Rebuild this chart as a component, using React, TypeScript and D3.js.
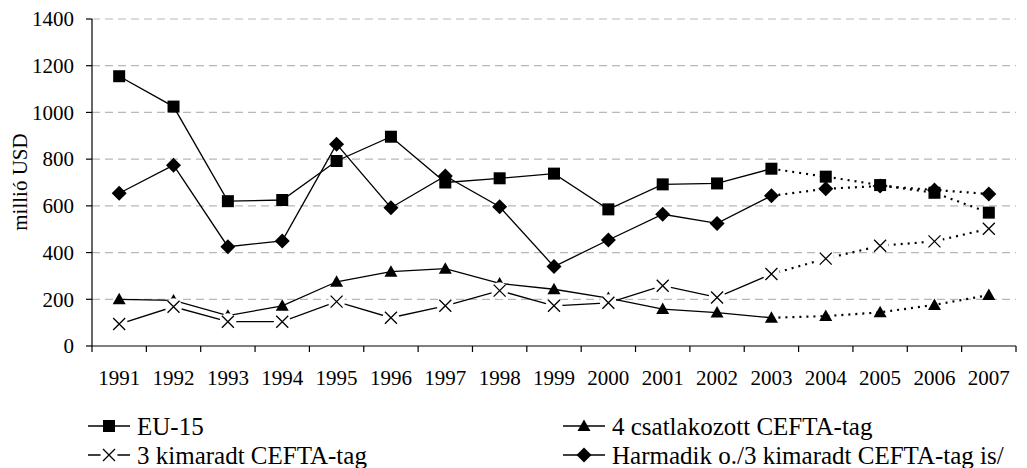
import React, { useRef, useEffect } from 'react'
import * as d3 from 'd3'

// years on the x axis
const years = ['1991', '1992', '1993', '1994', '1995', '1996', '1997', '1998', '1999',
  '2000', '2001', '2002', '2003', '2004', '2005', '2006', '2007']

// millió USD
const eu15 = [1155, 1025, 620, 625, 792, 896, 700, 718, 738, 585, 692, 696, 759, 725, 689, 656, 571]
const csatlakozott = [200, 195, 130, 172, 275, 318, 331, 268, 243, 205, 158, 143, 121, 128, 144, 176, 218]
const kimaradt = [94, 168, 104, 104, 190, 121, 172, 237, 172, 185, 258, 208, 308, 374, 429, 448, 502]
const harmadik = [654, 774, 425, 450, 864, 592, 728, 596, 340, 454, 564, 525, 643, 673, 685, 668, 651]

const yTicks = [0, 200, 400, 600, 800, 1000, 1200, 1400]
const lastSolid = '2003' // dotted after this year

const seriesNames = ['EU-15', '4 csatlakozott CEFTA-tag', '3 kimaradt CEFTA-tag', 'Harmadik o./3 kimaradt CEFTA-tag is/']
const seriesValues = [eu15, csatlakozott, kimaradt, harmadik]
const seriesMarkers = ['square', 'triangle', 'cross', 'diamond']

const FONT = '"Liberation Serif", "Times New Roman", serif'

function drawMarker(g: any, type: string, x: number, y: number) {
  if (type === 'square') {
    g.append('rect').attr('x', x - 6).attr('y', y - 6).attr('width', 12).attr('height', 12).attr('fill', '#000')
  } else if (type === 'triangle') {
    g.append('path').attr('d', `M${x},${y - 6.5}L${x + 6.5},${y + 5}L${x - 6.5},${y + 5}Z`).attr('fill', '#000')
  } else if (type === 'diamond') {
    g.append('path').attr('d', `M${x},${y - 7.5}L${x + 7.5},${y}L${x},${y + 7.5}L${x - 7.5},${y}Z`).attr('fill', '#000')
  } else {
    // white patch first, the line stops short of the cross
    g.append('circle').attr('cx', x).attr('cy', y).attr('r', 8.5).attr('fill', '#fff')
    g.append('path').attr('d', `M${x - 6},${y - 6}L${x + 6},${y + 6}M${x - 6},${y + 6}L${x + 6},${y - 6}`)
      .attr('stroke', '#000').attr('stroke-width', 1.3).attr('fill', 'none')
  }
}

export default function App() {
  const svgRef = useRef<SVGSVGElement>(null)

  useEffect(() => {
    const w = 1027
    const h = 468
    const svg = d3.select(svgRef.current)
    svg.selectAll('*').remove()
    svg.attr('width', w).attr('height', h).style('background', '#fff')

    const left = 92
    const right = 1016
    const top = 19
    const bottom = 346

    const xScale = d3.scaleBand().domain(years).range([left, right])
    const yScale = d3.scaleLinear().domain([0, 1400]).range([bottom, top])
    const cx = (yr: string) => (xScale(yr) as number) + xScale.bandwidth() / 2

    // grid
    svg.append('g')
      .selectAll('line')
      .data(yTicks.filter(t => t > 0))
      .join('line')
      .attr('x1', left).attr('x2', right)
      .attr('y1', d => yScale(d)).attr('y2', d => yScale(d))
      .attr('stroke', '#b8b8b8').attr('stroke-width', 1.2)
      .attr('stroke-dasharray', '8,5')

    // y axis
    svg.append('line').attr('x1', left).attr('x2', left).attr('y1', top).attr('y2', bottom)
      .attr('stroke', '#000').attr('stroke-width', 1.2)
    svg.append('g').selectAll('line').data(yTicks).join('line')
      .attr('x1', left - 6).attr('x2', left).attr('y1', d => yScale(d)).attr('y2', d => yScale(d))
      .attr('stroke', '#000').attr('stroke-width', 1.2)
    svg.append('g').selectAll('text').data(yTicks).join('text')
      .attr('x', left - 18).attr('y', d => yScale(d)).attr('dy', '0.35em')
      .attr('text-anchor', 'end')
      .attr('font-family', FONT).attr('font-size', 21)
      .text(d => d3.format('d')(d))

    // x axis, ticks between the years
    svg.append('line').attr('x1', left).attr('x2', right).attr('y1', bottom).attr('y2', bottom)
      .attr('stroke', '#000').attr('stroke-width', 1.2)
    const edges = years.map(y => xScale(y) as number).concat([right])
    svg.append('g').selectAll('line').data(edges).join('line')
      .attr('x1', d => d).attr('x2', d => d).attr('y1', bottom).attr('y2', bottom + 6)
      .attr('stroke', '#000').attr('stroke-width', 1.2)
    svg.append('g').selectAll('text').data(years).join('text')
      .attr('x', d => cx(d)).attr('y', 385)
      .attr('text-anchor', 'middle')
      .attr('font-family', FONT).attr('font-size', 21)
      .text(d => d)

    // y title
    svg.append('text')
      .attr('transform', `translate(27,182) rotate(-90)`)
      .attr('text-anchor', 'middle')
      .attr('font-family', FONT).attr('font-size', 21)
      .text('millió USD')

    const line = d3.line<[string, number]>().x(d => cx(d[0])).y(d => yScale(d[1]))
    const cut = years.indexOf(lastSolid)

    seriesValues.forEach((vals, si) => {
      const g = svg.append('g')
      const pts: [string, number][] = years.map((y, i) => [y, vals[i]])
      g.append('path').attr('d', line(pts.slice(0, cut + 1)))
        .attr('fill', 'none').attr('stroke', '#000').attr('stroke-width', 1.3)
      g.append('path').attr('d', line(pts.slice(cut)))
        .attr('fill', 'none').attr('stroke', '#000').attr('stroke-width', 2.2)
        .attr('stroke-dasharray', '2,5')
      pts.forEach(p => drawMarker(g, seriesMarkers[si], cx(p[0]), yScale(p[1])))
    })

    // legend, 2 columns
    const legX = [88, 563]
    const legY = [435, 464]
    seriesNames.forEach((name, i) => {
      const x0 = legX[i % 2]
      const base = legY[Math.floor(i / 2)]
      const my = base - 9
      const g = svg.append('g')
      g.append('line').attr('x1', x0).attr('x2', x0 + 42).attr('y1', my).attr('y2', my)
        .attr('stroke', '#000').attr('stroke-width', 1.3)
      drawMarker(g, seriesMarkers[i], x0 + 21, my)
      g.append('text').attr('x', x0 + 49).attr('y', base)
        .attr('font-family', FONT).attr('font-size', 25)
        .text(name)
    })
  }, [])

  return (
    <div style={{ position: 'absolute', left: 0, top: 0 }}>
      <svg ref={svgRef}></svg>
    </div>
  )
}
